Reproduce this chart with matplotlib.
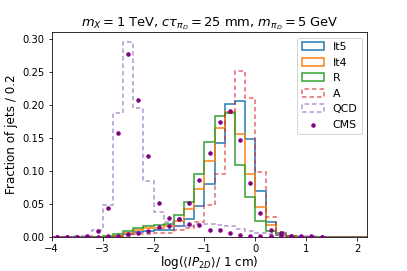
import numpy as np
import matplotlib
matplotlib.use("Agg")
import matplotlib.pyplot as plt

# bin edges of log10(<IP2D>/1 cm), width 0.2
edges = np.round(np.arange(-4.0, 2.21, 0.2), 1)

# fraction of jets per bin (left edge -4.0 ... 2.0)
it5 = [0, 0, 0, 0, 0, 0, 0.001, 0.004, 0.0076, 0.009, 0.010, 0.011, 0.016, 0.027,
       0.047, 0.081, 0.142, 0.202, 0.206, 0.148, 0.0695, 0.022, 0.006, 0.001,
       0, 0, 0, 0, 0, 0, 0]
it4 = [0, 0, 0, 0, 0, 0, 0.002, 0.006, 0.011, 0.0135, 0.014, 0.016, 0.025, 0.043,
       0.0735, 0.115, 0.166, 0.190, 0.157, 0.095, 0.0456, 0.018, 0.005, 0.001,
       0, 0, 0, 0, 0, 0, 0]
r_trk = [0, 0, 0, 0, 0, 0.001, 0.004, 0.009, 0.014, 0.016, 0.018, 0.020, 0.034, 0.053,
         0.096, 0.144, 0.184, 0.188, 0.110, 0.061, 0.024, 0.009, 0.003, 0.001,
         0, 0, 0, 0, 0, 0, 0]
a_trk = [0, 0, 0, 0, 0, 0, 0, 0.002, 0.004, 0.005, 0.006, 0.006, 0.010, 0.014,
         0.023, 0.048, 0.096, 0.1875, 0.252, 0.211, 0.099, 0.031, 0.0076, 0.001,
         0, 0, 0, 0, 0, 0, 0]
qcd = [0, 0.0005, 0.001, 0.002, 0.011, 0.049, 0.188, 0.296, 0.196, 0.0846, 0.0375,
       0.022, 0.017, 0.016, 0.019, 0.019, 0.018, 0.017, 0.012, 0.009, 0.006, 0.004,
       0.003, 0.002, 0.001, 0.001, 0.0005, 0, 0, 0, 0]

# CMS points, bin centres -3.9 ... 1.3
cms_centres = [-3.9, -3.7, -3.5, -3.3, -3.1, -2.9, -2.7, -2.5, -2.3, -2.1, -1.9,
               -1.7, -1.5, -1.3, -1.1, -0.9, -0.7, -0.5, -0.3, -0.1, 0.1, 0.3,
               0.5, 0.7, 0.9, 1.1, 1.3]
cms_qcd = [0.0, 0.0, 0.0005, 0.002, 0.0087, 0.044, 0.158, 0.278, 0.208, 0.1227,
           0.052, 0.029, 0.028, 0.020, 0.0178, 0.010, 0.010, 0.006, 0.0026,
           0.0015, 0.001, 0.001, 0.001, 0.001, 0.0008, 0.0008, 0.0005]
cms_sig = [0, 0, 0, 0, 0.0005, 0.001, 0.002, 0.005, 0.0066, 0.009, 0.015, 0.016,
           0.027, 0.052, 0.086, 0.128, 0.175, 0.191, 0.147, 0.082, 0.0365, 0.011,
           0.006, 0.0015, 0.0005, 0.0003, 0.0]

centres = edges[:-1] + 0.1

fig = plt.figure(figsize=(407 / 72, 271 / 72), dpi=72)
ax = fig.add_axes([0.127, 0.1255, 0.7755, 0.7555])

ax.hist(centres, bins=edges, weights=it5, histtype="step", lw=1.5, color="C0", label="It5")
ax.hist(centres, bins=edges, weights=it4, histtype="step", lw=1.5, color="C1", label="It4")
ax.hist(centres, bins=edges, weights=r_trk, histtype="step", lw=1.5, color="C2", label="R")
ax.hist(centres, bins=edges, weights=a_trk, histtype="step", lw=1.5, color="C3",
        ls=(0, (3, 2)), alpha=0.7, label="A")
ax.hist(centres, bins=edges, weights=qcd, histtype="step", lw=1.5, color="C4",
        ls=(0, (3, 2)), alpha=0.7, label="QCD")

ax.scatter(cms_centres, cms_qcd, s=12, color="purple", zorder=3, label="CMS")
ax.scatter(cms_centres, cms_sig, s=12, color="purple", zorder=3)

ax.set_xlim(-4, 2.2)
ax.set_ylim(bottom=0)
ax.set_xticks([-4, -3, -2, -1, 0, 1, 2])

ax.set_xlabel(r"log($\langle IP_{2D} \rangle$/ 1 cm)", fontsize=12, labelpad=0)
ax.set_ylabel("Fraction of jets / 0.2", fontsize=12)
ax.set_title(r"$m_X = 1$ TeV, $c\tau_{\pi_D} = 25$ mm, $m_{\pi_D} = 5$ GeV", fontsize=13)
ax.legend(loc="upper right", fontsize=11)

fig.savefig("out.png", dpi=72)
